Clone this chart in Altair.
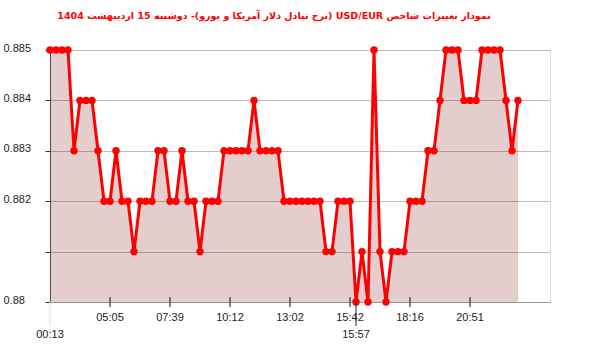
import altair as alt
import pandas as pd

# ---- data ----
values = [
    0.885, 0.885, 0.885, 0.885, 0.883, 0.884, 0.884, 0.884, 0.883, 0.882,
    0.882, 0.883, 0.882, 0.882, 0.881, 0.882, 0.882, 0.882, 0.883, 0.883,
    0.882, 0.882, 0.883, 0.882, 0.882, 0.881, 0.882, 0.882, 0.882, 0.883,
    0.883, 0.883, 0.883, 0.883, 0.884, 0.883, 0.883, 0.883, 0.883, 0.882,
    0.882, 0.882, 0.882, 0.882, 0.882, 0.882, 0.881, 0.881, 0.882, 0.882,
    0.882, 0.880, 0.881, 0.880, 0.885, 0.881, 0.880, 0.881, 0.881, 0.881,
    0.882, 0.882, 0.882, 0.883, 0.883, 0.884, 0.885, 0.885, 0.885, 0.884,
    0.884, 0.884, 0.885, 0.885, 0.885, 0.885, 0.884, 0.883, 0.884,
]
index = list(range(len(values)))

tick_index = [10, 20, 30, 40, 50, 60, 70]
tick_labels = ["05:05", "07:39", "10:12", "13:02", "15:42", "18:16", "20:51"]

extra_index = [0, 51]
extra_labels = ["00:13", "15:57"]
extra_colors = ["#dddddd", "#222222"]

y_ticks = [0.88, 0.881, 0.882, 0.883, 0.884, 0.885]

title_text = "نمودار تغییرات شاخص USD/EUR (نرخ تبادل دلار آمریکا و یورو)- دوشنبه  15 اردیبهشت 1404"

df = pd.DataFrame({"idx": index, "val": values})
ticks1 = pd.DataFrame({"idx": tick_index, "label": tick_labels})
ticks2 = pd.DataFrame({"idx": extra_index, "label": extra_labels, "color": extra_colors})

FONT = "Liberation Sans"

xscale = alt.Scale(domain=[0, 250 / 3], nice=False, zero=False)
yscale = alt.Scale(domain=[0.88, 0.885], nice=False, zero=False)

x_enc = alt.X(
    "idx:Q",
    scale=xscale,
    axis=alt.Axis(
        title="", labels=False, ticks=False, grid=False,
        domain=True, domainColor="#999999", domainWidth=1,
    ),
)
y_enc = alt.Y(
    "val:Q",
    scale=yscale,
    axis=alt.Axis(
        title="",
        values=y_ticks,
        labelExpr="abs(datum.value - 0.881) < 0.0001 ? '' : format(datum.value, '.3~f')",
        labelAlign="left",
        labelPadding=42,
        labelBaseline="middle",
        labelOffset=-2,
        labelFont=FONT,
        labelFontSize=11,
        labelColor="#222222",
        tickSize=5,
        tickColor="#333333",
        domainColor="#555555",
        grid=True,
        gridColor="#bbbbbb",
        gridWidth=1,
    ),
)

area = alt.Chart(df).mark_area(color="#750000", opacity=0.196).encode(
    x=x_enc, y=y_enc, y2=alt.Y2(datum=0.88)
)
line = alt.Chart(df).mark_line(color="#ff0000", strokeWidth=3).encode(
    x=alt.X("idx:Q", scale=xscale), y=alt.Y("val:Q", scale=yscale)
)
points = alt.Chart(df).mark_circle(color="#ff0000", opacity=1, size=55).encode(
    x=alt.X("idx:Q", scale=xscale), y=alt.Y("val:Q", scale=yscale)
)

tick_rules1 = alt.Chart(ticks1).mark_rule(color="#111111", strokeWidth=1).encode(
    x=alt.X("idx:Q", scale=xscale), y=alt.value(247), y2=alt.value(257)
)
tick_text1 = alt.Chart(ticks1).mark_text(
    font=FONT, fontSize=11, color="#222222", baseline="middle", align="center"
).encode(x=alt.X("idx:Q", scale=xscale), y=alt.value(268), text="label:N")

tick_rules2 = alt.Chart(ticks2).mark_rule(strokeWidth=1).encode(
    x=alt.X("idx:Q", scale=xscale),
    y=alt.value(251),
    y2=alt.value(276),
    color=alt.Color("color:N", scale=None),
)
tick_text2 = alt.Chart(ticks2).mark_text(
    font=FONT, fontSize=11, color="#222222", baseline="middle", align="center"
).encode(x=alt.X("idx:Q", scale=xscale), y=alt.value(285), text="label:N")

chart = (
    alt.layer(area, line, points, tick_rules1, tick_text1, tick_rules2, tick_text2)
    .properties(
        width=500,
        height=252,
        autosize=alt.AutoSizeParams(type="none"),
        padding={"left": 50, "top": 50, "right": 50, "bottom": 50},
        title=alt.TitleParams(
            text="\u202b" + title_text + "\u202c",
            font="DejaVu Sans",
            fontSize=9.5,
            fontWeight="bold",
            color="#ff0000",
            anchor="middle",
            dx=-26,
            offset=22,
        ),
    )
    .configure_view(stroke=None)
    .configure(background="white")
)

chart.save("out.html", embed_options={"renderer": "svg", "actions": False})
